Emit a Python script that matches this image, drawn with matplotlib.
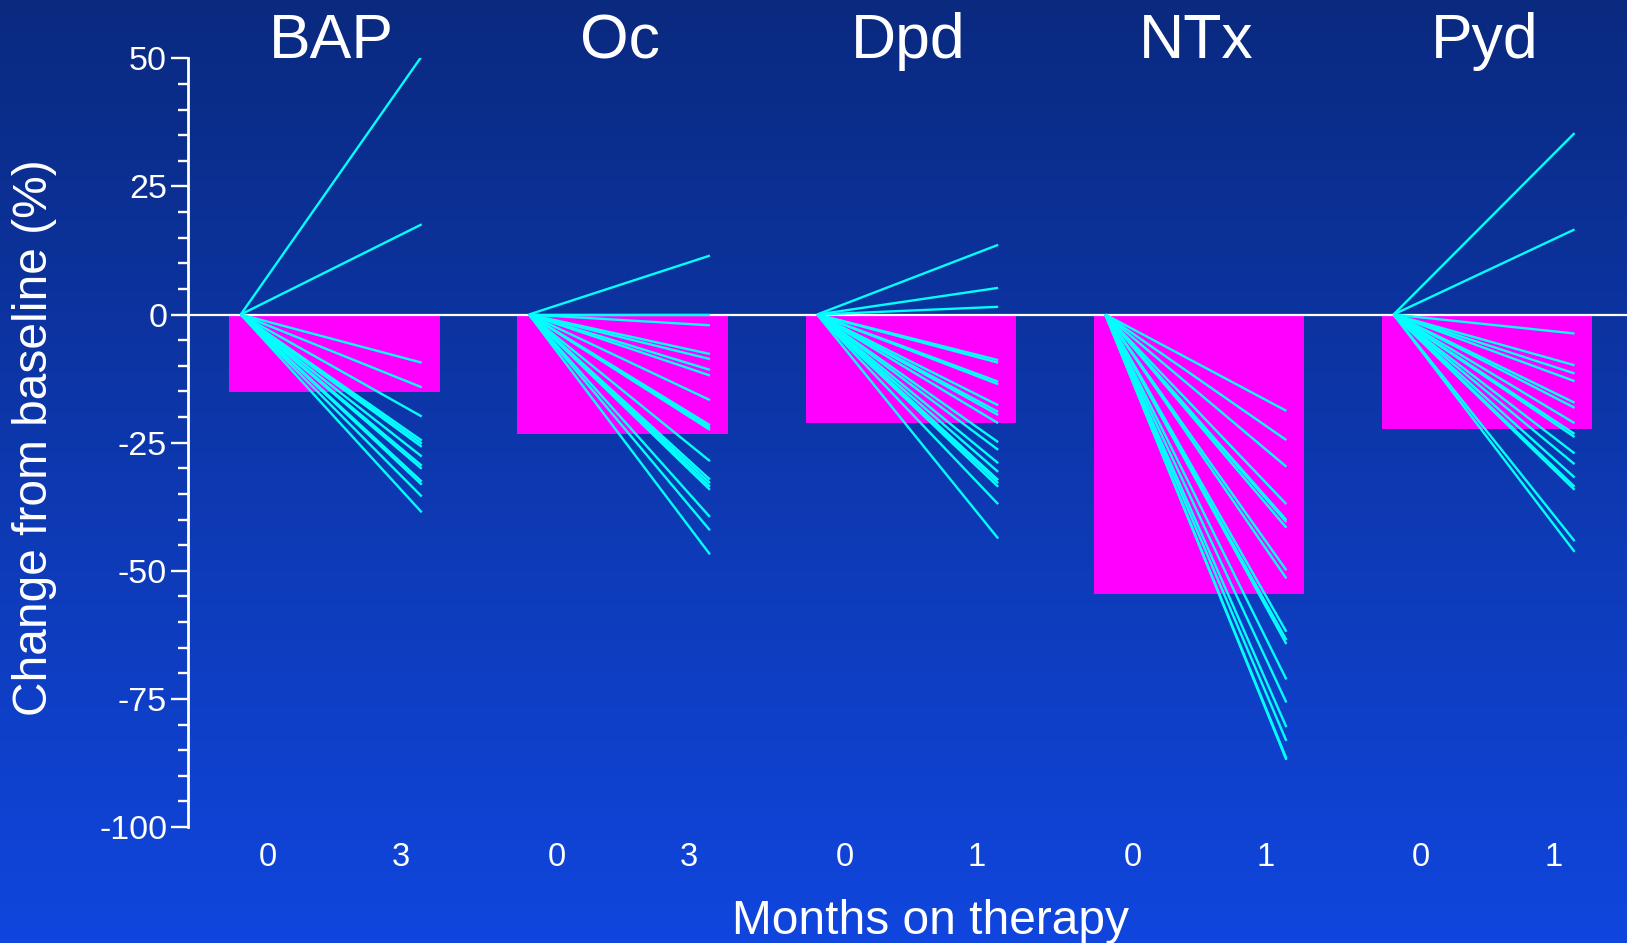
import numpy as np
import matplotlib
matplotlib.use("Agg")
import matplotlib.pyplot as plt
from matplotlib.colors import LinearSegmentedColormap

plt.rcParams["font.family"] = ["Liberation Sans", "DejaVu Sans"]
plt.rcParams["axes.unicode_minus"] = False

# -----------------------------
# DATA
# -----------------------------
markers = ["BAP", "Oc", "Dpd", "NTx", "Pyd"]
followup = ["3", "3", "1", "1", "1"]          # months at second time point
mean_change = [-15.2, -23.4, -21.2, -54.6, -22.4]

bap_change = [50.4, 17.6, -9.4, -14.2, -19.9, -24.6, -25.2, -25.8, -27.7,
              -29.5, -30.1, -32.6, -33.2, -35.5, -38.6]
oc_change = [11.5, 0.0, -2.1, -7.7, -8.7, -10.8, -11.9, -16.7, -21.6, -22.1,
             -22.5, -28.6, -32.2, -32.9, -33.6, -34.2, -39.5, -42.1, -46.8]
dpd_change = [13.6, 5.2, 1.5, -8.9, -9.4, -13.1, -13.6, -17.7, -19.0, -19.6,
              -21.2, -24.9, -26.4, -29.0, -30.7, -32.3, -32.9, -33.6, -37.0,
              -43.7]
ntx_change = [-18.8, -24.5, -29.7, -37.0, -40.1, -40.5, -41.6, -49.9, -51.5,
              -61.9, -63.5, -64.3, -71.2, -75.7, -80.5, -83.2, -86.6, -86.9]
pyd_change = [35.4, 16.6, -3.7, -9.9, -11.5, -13.0, -17.2, -18.2, -21.2,
              -23.3, -23.9, -27.1, -29.2, -31.8, -33.6, -34.2, -44.2, -46.3]

individual = [bap_change, oc_change, dpd_change, ntx_change, pyd_change]

# -----------------------------
# FIGURE + GRADIENT BACKGROUND
# -----------------------------
fig = plt.figure(figsize=(16.27, 9.43), dpi=100)

bg = fig.add_axes([0, 0, 1, 1], zorder=-10)
grad = np.linspace(0, 1, 256).reshape(-1, 1)
cmap = LinearSegmentedColormap.from_list("bg", ["#0A2A80", "#1046DE"])
bg.imshow(grad, aspect="auto", cmap=cmap, extent=[0, 1, 0, 1], origin="upper")
bg.set_axis_off()

ax = fig.add_axes([188 / 1627, 0.1230, 1 - 188 / 1627, 0.8152])
ax.patch.set_alpha(0)

line_len = 0.628
bar_w = 0.73

for i, (name, vals) in enumerate(zip(markers, individual)):
    # mean bar
    ax.bar(i - 0.04 + bar_w / 2, mean_change[i], width=bar_w,
           color="#FF00FF", zorder=1)
    # each patient
    for v in vals:
        ax.plot([i, i + line_len], [0, v], color="#00FFFF", lw=1.7,
                solid_capstyle="butt", zorder=3)
    # marker name above the group
    ax.text(i + 0.315, 53.2, name, color="white", fontsize=45,
            ha="center", va="center", clip_on=False)
    # time point labels
    ax.text(i + 0.095, -105.9, "0", color="white", fontsize=23.5,
            ha="center", va="center", clip_on=False)
    ax.text(i + 0.555, -105.9, followup[i], color="white", fontsize=23.5,
            ha="center", va="center", clip_on=False)

ax.axhline(0, color="white", lw=1.6, zorder=2)

ax.set_xlim(-0.183, 4.81)
ax.set_ylim(-100, 50)

# axis styling
for s in ["top", "right", "bottom"]:
    ax.spines[s].set_visible(False)
ax.spines["left"].set_color("white")
ax.spines["left"].set_linewidth(2.0)
ax.spines["left"].set_bounds(-100, 50)

ax.set_xticks([])
ax.set_yticks(np.arange(-100, 51, 25))
ax.set_yticks(np.arange(-100, 51, 5), minor=True)
ax.tick_params(axis="y", which="major", colors="white", length=12,
               width=1.7, labelsize=24.5, pad=3)
ax.tick_params(axis="y", which="minor", colors="white", length=7, width=1.7)

fig.text(35 / 1627, 1 - 437.5 / 943, "Change from baseline (%)",
         color="white", fontsize=34.5, rotation=90, ha="center", va="center")

ax.text(2.395, -118.4, "Months on therapy", color="white", fontsize=34.5,
        ha="center", va="center", clip_on=False)

fig.savefig("out.png", dpi=100)
